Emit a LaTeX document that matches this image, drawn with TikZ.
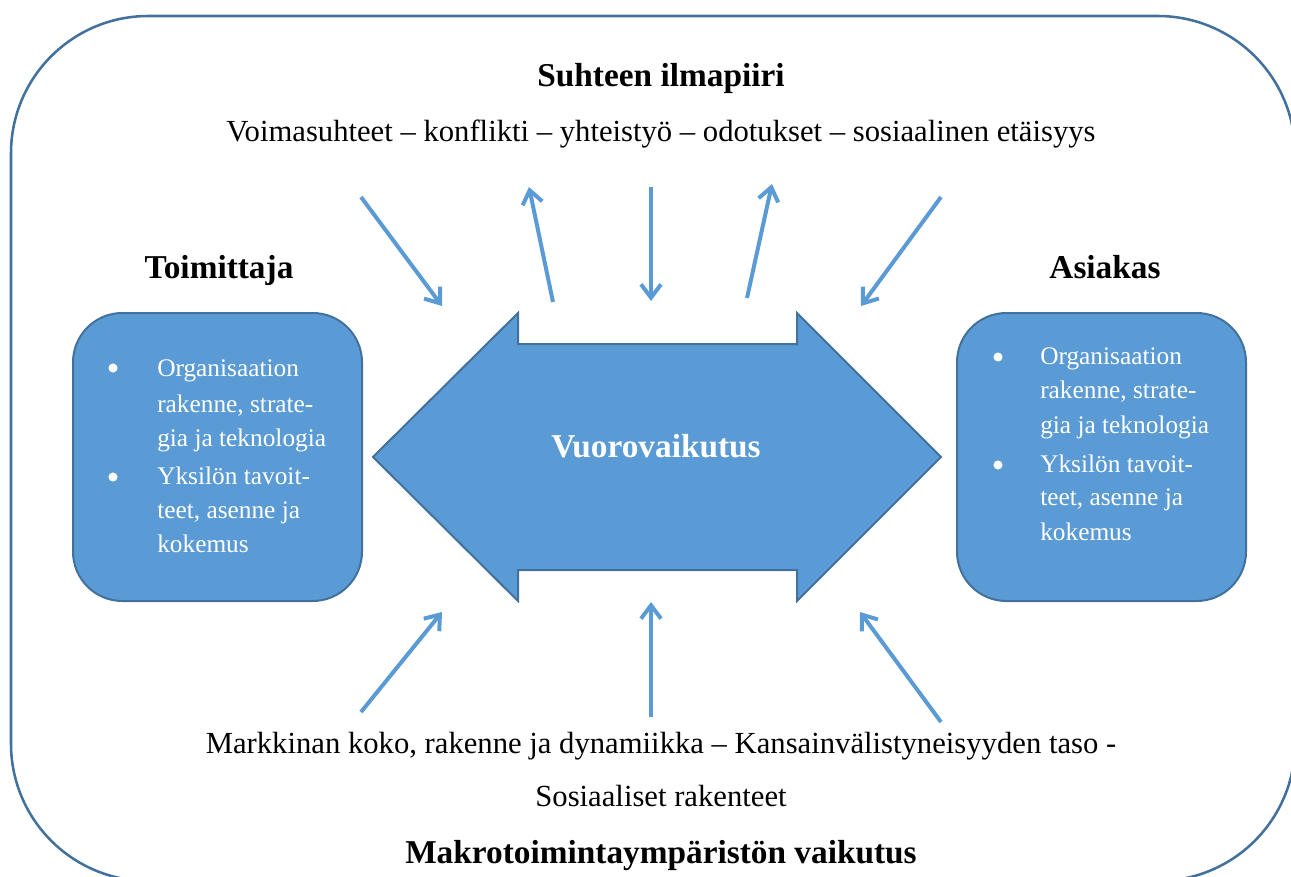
\documentclass[tikz,border=0pt]{standalone}
\usepackage{fontspec}
\setmainfont{Liberation Serif}
\usetikzlibrary{arrows.meta,positioning}
\definecolor{vvfill}{HTML}{5B9BD5}
\definecolor{vvline}{HTML}{41719C}
\tikzset{
  party/.style={draw=vvline,line width=1.5pt,fill=vvfill,rounded corners=37pt,
                minimum width=216.75pt,minimum height=216pt,inner sep=0pt},
  flow/.style={-{Straight Barb[length=10pt,width=15pt,line width=3pt]},line width=3pt,draw=vvfill},
  head/.style={font=\fontsize{25}{30}\selectfont\bfseries,anchor=base,inner sep=0pt},
  plain/.style={font=\fontsize{23}{28}\selectfont,anchor=base,inner sep=0pt},
  item/.style={font=\fontsize{19}{24}\selectfont,text=white,anchor=base west,inner sep=0pt},
  dot/.style={circle,fill=white,minimum size=6.8pt,inner sep=0pt},
}
\begin{document}
\begin{tikzpicture}[x=0.75pt,y=-0.75pt]
  \useasboundingbox (0,0) rectangle (1291,877);
  \clip (0,0) rectangle (1291,877);
  \draw[vvline,line width=1.9pt,rounded corners=103pt] (11,16) rectangle (1295,881);
  % the two parties
  \node[party] (toim) at (217.5,457) {};
  \node[party] (asia) at (1101.5,457) {};
  % interaction arrow
  \draw[vvline,line width=1.5pt,fill=vvfill,line join=miter]
    (373,457) -- (518,313) -- (518,344) -- (797,344) -- (797,313) -- (941,457)
    -- (797,601) -- (797,570) -- (518,570) -- (518,601) -- cycle;
  \node[head,text=white] (vv) at (656,457) {Vuorovaikutus};
  % texts
  \node[head] (ilma) at (661,87) {Suhteen ilmapiiri};
  \node[plain] (voima) at (661,142) {Voimasuhteet – konflikti – yhteistyö – odotukset – sosiaalinen etäisyys};
  \node[head] (toimittaja) at (219,278) {Toimittaja};
  \node[head] (asiakas) at (1105,278) {Asiakas};
  \node[plain] (markkina) at (661,753) {Markkinan koko, rakenne ja dynamiikka – Kansainvälistyneisyyden taso -};
  \node[plain] (sosiaali) at (661,806) {Sosiaaliset rakenteet};
  \node[head] (makro) at (661,863) {Makrotoimintaympäristön vaikutus};
  % box contents
  \foreach \x/\y/\t [count=\i] in {157/376/Organisaation, 157/412/{rakenne, strate-}, 157/446/gia ja teknologia,
      157/484/Yksilön tavoit-, 157/518/{teet, asenne ja}, 157/552/kokemus,
      1040/364/Organisaation, 1040/398/{rakenne, strate-}, 1040/433/gia ja teknologia,
      1040/472/Yksilön tavoit-, 1040/505/{teet, asenne ja}, 1040/540/kokemus}
    \node[item] (ln\i) at (\x,\y) {\t};
  \foreach \x/\y [count=\i] in {113/368, 113/477, 998/357, 998/465}
    \node[dot] (bul\i) at (\x,\y) {};
  % influences
  \foreach \n/\tx/\ty/\hx/\hy in {1/361/197/442/306, 2/553/302/529/187, 3/651/187/651/301,
      4/747/298/772/184, 5/941/197/861/306, 6/361/712/442/612, 7/651/717/651/602, 8/941/722/860/612}{
    \coordinate (t\n) at (\tx,\ty);
    \coordinate (h\n) at (\hx,\hy);
    \draw[flow] (t\n) -- (h\n);
  }
\end{tikzpicture}
\end{document}
